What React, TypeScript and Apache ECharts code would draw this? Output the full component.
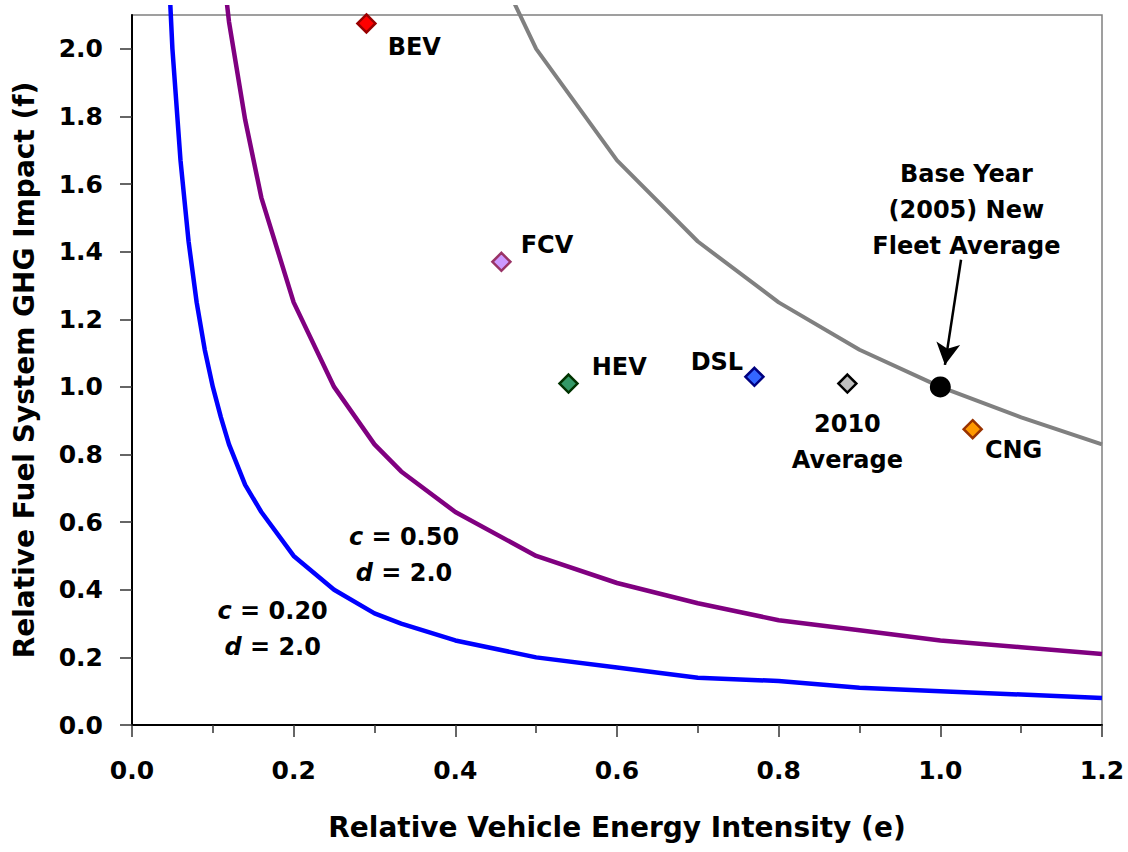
import React, { useEffect, useRef } from "react";
import * as echarts from "echarts";

const FONT = '"DejaVu Sans", "Liberation Sans", Arial, sans-serif';

// Axis ticks
const xTicks = [0, 0.2, 0.4, 0.6, 0.8, 1.0, 1.2];
const yTicks = [0, 0.2, 0.4, 0.6, 0.8, 1.0, 1.2, 1.4, 1.6, 1.8, 2.0];

// Curve c = 0.20, d = 2.0 (blue)
const blueE = [0.04, 0.05, 0.06, 0.07, 0.08, 0.09, 0.1, 0.11, 0.12, 0.14, 0.16, 0.2, 0.25, 0.3, 0.333, 0.4, 0.5, 0.6, 0.7, 0.8, 0.9, 1.0, 1.1, 1.2];
const blueF = [2.5, 2.0, 1.67, 1.43, 1.25, 1.11, 1.0, 0.91, 0.83, 0.71, 0.63, 0.5, 0.4, 0.33, 0.3, 0.25, 0.2, 0.17, 0.14, 0.13, 0.11, 0.1, 0.09, 0.08];

// Curve c = 0.50, d = 2.0 (purple)
const purpleE = [0.1, 0.12, 0.14, 0.16, 0.2, 0.25, 0.3, 0.333, 0.4, 0.5, 0.6, 0.7, 0.8, 0.9, 1.0, 1.1, 1.2];
const purpleF = [2.5, 2.08, 1.79, 1.56, 1.25, 1.0, 0.83, 0.75, 0.63, 0.5, 0.42, 0.36, 0.31, 0.28, 0.25, 0.23, 0.21];

// Base-year iso-line (gray)
const grayE = [0.4, 0.5, 0.6, 0.7, 0.8, 0.9, 1.0, 1.1, 1.2];
const grayF = [2.5, 2.0, 1.67, 1.43, 1.25, 1.11, 1.0, 0.91, 0.83];

// Vehicle points
const pointNames = ["BEV", "FCV", "HEV", "DSL", "2010\nAverage", "CNG", "Base Year\n(2005) New\nFleet Average"];
const pointE = [0.29, 0.457, 0.54, 0.77, 0.885, 1.04, 1.0];
const pointF = [2.075, 1.37, 1.01, 1.03, 1.01, 0.875, 1.0];

// Curve labels
const curveLabelText = ["{i|c} = 0.20\n{i|d} = 2.0", "{i|c} = 0.50\n{i|d} = 2.0"];
const curveLabelE = [0.174, 0.3365];
const curveLabelF = [0.285, 0.502];

// Arrow (annotation) from label to base year point
const arrowE = [1.0256, 1.0057];
const arrowF = [1.376, 1.065];

const pointStyles: Record<string, any> = {
  BEV: { fill: "#FF0000", border: "#990000", pos: "right", offset: [6, 24] },
  FCV: { fill: "#CC99FF", border: "#993366", pos: "right", offset: [4, -17] },
  HEV: { fill: "#339966", border: "#003300", pos: "right", offset: [8, -17] },
  DSL: { fill: "#3366FF", border: "#000080", pos: "left", offset: [4, -15] },
  "2010\nAverage": { fill: "#C0C0C0", border: "#000000", pos: "bottom", offset: [0, 7] },
  CNG: { fill: "#FF9900", border: "#993300", pos: "right", offset: [-3, 21] },
  "Base Year\n(2005) New\nFleet Average": { fill: "#000000", border: "#000000", pos: "top", offset: [26, -107], circle: true },
};

const zip = (a: number[], b: number[]) => a.map((v, i) => [v, b[i]]);

export default function App() {
  const ref = useRef<HTMLDivElement>(null);

  useEffect(() => {
    if (!ref.current) return;
    const chart = echarts.init(ref.current, undefined, { renderer: "svg" });

    const labelBase = {
      fontFamily: FONT,
      fontWeight: "bold" as const,
      fontSize: 24,
      color: "#000",
      lineHeight: 36,
    };

    const pointData = pointNames.map((n, i) => {
      const s = pointStyles[n];
      return {
        name: n,
        value: [pointE[i], pointF[i]],
        symbol: s.circle ? "circle" : "diamond",
        symbolSize: s.circle ? 21 : 18,
        itemStyle: { color: s.fill, borderColor: s.border, borderWidth: s.circle ? 0 : 2.5, opacity: 1 },
        label: {
          show: true,
          formatter: n,
          position: s.pos,
          distance: 5,
          offset: s.offset,
          align: s.pos === "right" ? "left" : s.pos === "left" ? "right" : "center",
          ...labelBase,
        },
      };
    });

    const option: any = {
      animation: false,
      backgroundColor: "#fff",
      grid: {
        left: 132,
        right: 26,
        top: 15,
        bottom: 127,
        show: true,
        borderColor: "#808080",
        borderWidth: 1.5,
      },
      xAxis: {
        type: "value",
        min: 0,
        max: 1.2,
        interval: 0.2,
        name: "Relative Vehicle Energy Intensity (e)",
        nameLocation: "middle",
        nameGap: 88,
        nameTextStyle: { fontFamily: FONT, fontWeight: "bold", fontSize: 28, color: "#000" },
        axisLine: { show: true, lineStyle: { color: "#000", width: 2 } },
        axisTick: { show: true, length: 12, customValues: xTicks, lineStyle: { color: "#333", width: 1.5 } },
        minorTick: { show: true, splitNumber: 2, length: 8, lineStyle: { color: "#333", width: 1.5 } },
        splitLine: { show: false },
        minorSplitLine: { show: false },
        axisLabel: {
          customValues: xTicks,
          margin: 33,
          fontFamily: FONT,
          fontWeight: "bold",
          fontSize: 25,
          color: "#000",
          formatter: (v: number) => v.toFixed(1),
        },
      },
      yAxis: {
        type: "value",
        min: 0,
        max: 2.1,
        name: "Relative Fuel System GHG Impact (f)",
        nameLocation: "middle",
        nameGap: 94,
        nameTextStyle: { fontFamily: FONT, fontWeight: "bold", fontSize: 28, color: "#000" },
        axisLine: { show: true, lineStyle: { color: "#000", width: 2 } },
        axisTick: { show: true, length: 12, customValues: yTicks, lineStyle: { color: "#333", width: 1.5 } },
        splitLine: { show: false },
        axisLabel: {
          customValues: yTicks,
          margin: 29,
          fontFamily: FONT,
          fontWeight: "bold",
          fontSize: 25,
          color: "#000",
          formatter: (v: number) => v.toFixed(1),
        },
      },
      graphic: [
        {
          type: "rect",
          shape: { x: 0, y: 0, width: 1128, height: 5 },
          style: { fill: "#fff" },
          z: 100,
          silent: true,
        },
      ],
      series: [
        {
          name: "c=0.20",
          type: "line",
          data: zip(blueE, blueF),
          showSymbol: false,
          symbol: "none",
          clip: false,
          lineStyle: { color: "#0000FF", width: 4.5 },
          z: 3,
        },
        {
          name: "c=0.50",
          type: "line",
          data: zip(purpleE, purpleF),
          showSymbol: false,
          symbol: "none",
          clip: false,
          lineStyle: { color: "#800080", width: 4.5 },
          z: 3,
        },
        {
          name: "base",
          type: "line",
          data: zip(grayE, grayF),
          showSymbol: false,
          symbol: "none",
          clip: false,
          lineStyle: { color: "#808080", width: 4 },
          z: 3,
        },
        {
          name: "curveLabels",
          type: "scatter",
          symbolSize: 0,
          silent: true,
          itemStyle: { opacity: 1 },
          data: curveLabelText.map((t, i) => ({
            value: [curveLabelE[i], curveLabelF[i]],
            label: {
              show: true,
              position: "inside",
              formatter: t,
              align: "center",
              verticalAlign: "middle",
              ...labelBase,
              rich: {
                i: { ...labelBase, fontStyle: "italic" },
              },
            },
          })),
          z: 4,
        },
        {
          name: "points",
          type: "scatter",
          data: pointData,
          itemStyle: { opacity: 1 },
          z: 5,
          markLine: {
            silent: true,
            symbol: ["none", "arrow"],
            symbolSize: [18, 22],
            label: { show: false },
            lineStyle: { color: "#000", width: 2.5, type: "solid", opacity: 1 },
            data: [[{ coord: [arrowE[0], arrowF[0]] }, { coord: [arrowE[1], arrowF[1]] }]],
          },
        },
      ],
    };

    chart.setOption(option);
    return () => chart.dispose();
  }, []);

  return (
    <div
      ref={ref}
      style={{ position: "absolute", left: 0, top: 0, width: 1128, height: 852, background: "#fff" }}
    />
  );
}
